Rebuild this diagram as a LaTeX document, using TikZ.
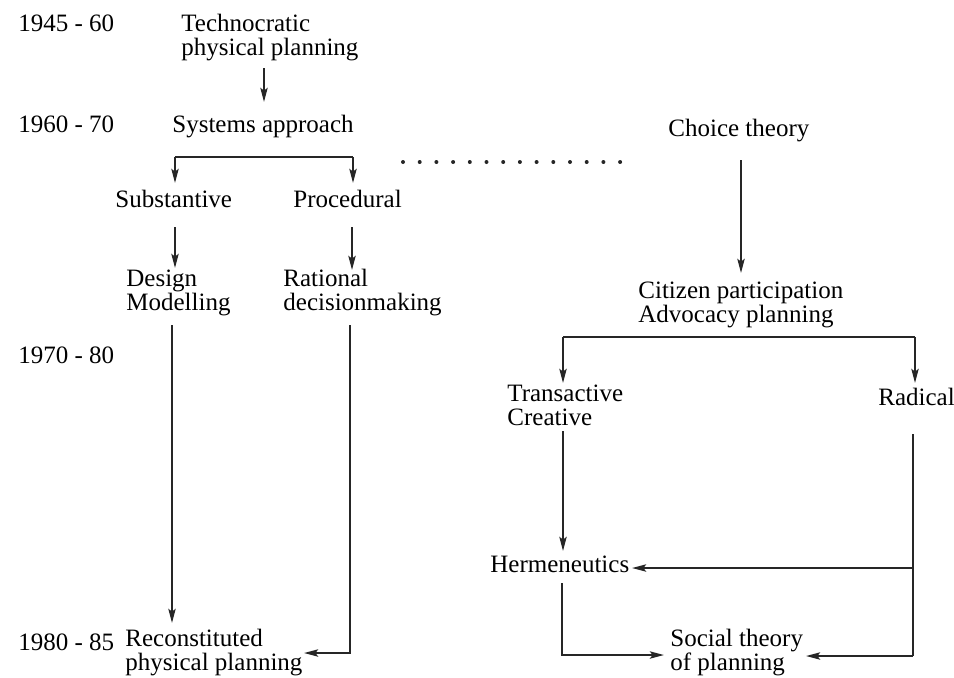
\documentclass[tikz,border=0pt]{standalone}
\usepackage{fontspec}
\setmainfont{Liberation Serif}
\usetikzlibrary{arrows.meta,calc}
\begin{document}
\begin{tikzpicture}[x=0.5pt,y=-0.5pt,
  lbl/.style={inner sep=0pt,anchor=base west,align=left,font=\fontsize{12.5}{12}\selectfont},
  ln/.style={line width=1.1pt,draw=black!85},
  arr/.style={ln,-{Stealth[length=7pt,width=3.6pt,inset=1.3pt]}}]
\useasboundingbox (0,0) rectangle (954,677);
% dates
\node[lbl] (d1) at (18,31) {1945 - 60};
\node[lbl] (d2) at (18,132) {1960 - 70};
\node[lbl] (d3) at (18,363) {1970 - 80};
\node[lbl] (d4) at (18,650) {1980 - 85};
% left column (anchor = baseline of last line)
\node[lbl] (techno) at (181,55) {Technocratic\\physical planning};
\node[lbl] (sys) at (172,132) {Systems approach};
\node[lbl] (subst) at (115,207) {Substantive};
\node[lbl] (proc) at (293,207) {Procedural};
\node[lbl] (design) at (126,310) {Design\\Modelling};
\node[lbl] (rational) at (283,310) {Rational\\decisionmaking};
\node[lbl] (recon) at (125,670) {Reconstituted\\physical planning};
% right column
\node[lbl] (choice) at (668,136) {Choice theory};
\node[lbl] (citizen) at (638,322) {Citizen participation\\Advocacy planning};
\node[lbl] (trans) at (507,425) {Transactive\\Creative};
\node[lbl] (radical) at (878,405) {Radical};
\node[lbl] (herm) at (490,572) {Hermeneutics};
\node[lbl] (social) at (670,670) {Social theory\\of planning};
% coordinates
\coordinate (a1s) at (264,68);  \coordinate (a1e) at (264,102);
\coordinate (bL) at (175,157);  \coordinate (bR) at (353,157);
\coordinate (bLe) at (175,183); \coordinate (bRe) at (353,183);
\coordinate (sA) at (175,227);  \coordinate (sAe) at (175,268);
\coordinate (pA) at (352,227);  \coordinate (pAe) at (352,270);
\coordinate (sB) at (172,325);  \coordinate (sBe) at (172,623);
\coordinate (pB) at (350,325);  \coordinate (pC) at (350,653); \coordinate (pCe) at (304,653);
\coordinate (cA) at (741,160);  \coordinate (cAe) at (741,273);
\coordinate (rL) at (563,337);  \coordinate (rR) at (915,337);
\coordinate (rLe) at (563,383); \coordinate (rRe) at (915,383);
\coordinate (tA) at (563,431);  \coordinate (tAe) at (563,551);
\coordinate (kA) at (913,434);  \coordinate (kM) at (913,568); \coordinate (kB) at (913,656);
\coordinate (hMe) at (632,568); \coordinate (kBe) at (806,656);
\coordinate (hA) at (562,583);  \coordinate (hB) at (562,655);  \coordinate (hBe) at (664,655);
% connectors
\draw[arr] (a1s) -- (a1e);
\draw[ln] (bL) -- (bR);
\draw[arr] (bL) -- (bLe);
\draw[arr] (bR) -- (bRe);
\draw[arr] (sA) -- (sAe);
\draw[arr] (pA) -- (pAe);
\draw[arr] (sB) -- (sBe);
\draw[arr] (pB) -- (pC) -- (pCe);
\draw[arr] (cA) -- (cAe);
\draw[ln] (rL) -- (rR);
\draw[arr] (rL) -- (rLe);
\draw[arr] (rR) -- (rRe);
\draw[arr] (tA) -- (tAe);
\draw[ln] (kA) -- (kB);
\draw[arr] (kM) -- (hMe);
\draw[arr] (kB) -- (kBe);
\draw[arr] (hA) -- (hB) -- (hBe);
% dotted link
\foreach \i in {0,...,13} \fill[black!85] (403+\i*16.7,162) circle (2);
\end{tikzpicture}
\end{document}
